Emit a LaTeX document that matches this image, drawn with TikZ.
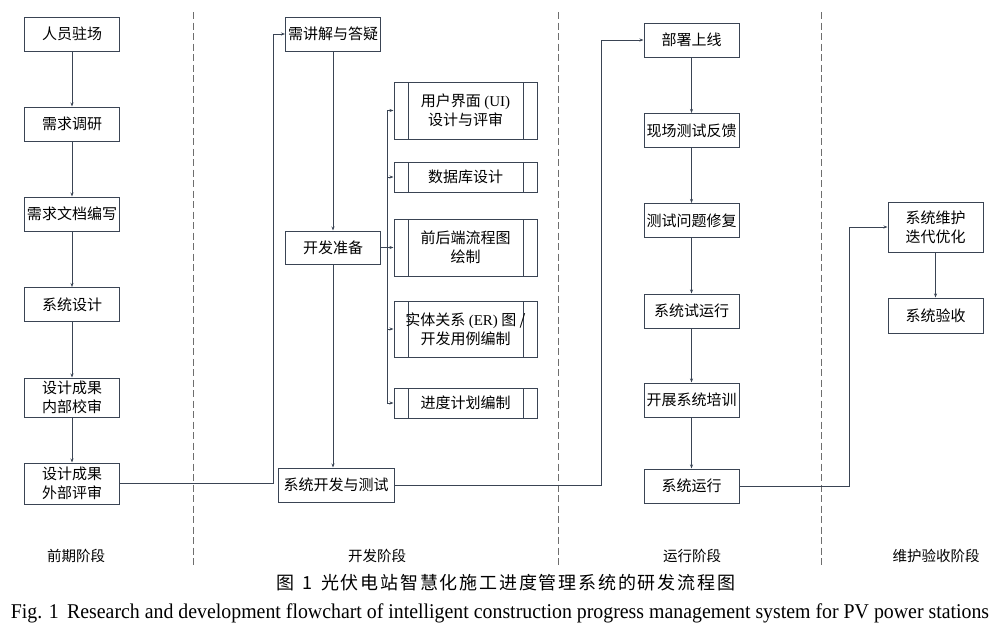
\documentclass[tikz,border=0pt]{standalone}
\usepackage{fontspec}
\setmainfont{Liberation Serif}
\newfontfamily\cjk{Noto Sans CJK SC}
\newfontfamily\cjkcap[LetterSpace=10]{Noto Sans CJK SC}
\usetikzlibrary{arrows.meta}
\definecolor{boxline}{RGB}{58,68,84}
\definecolor{sepgray}{RGB}{110,110,110}
\tikzset{
  stage/.style={draw=boxline, line width=1pt, fill=white, minimum width=95pt,
    minimum height=34pt, inner sep=1pt, align=center,
    font=\cjk\fontsize{15}{19}\selectfont},
  subbox/.style={stage, minimum width=143pt,
    path picture={\draw[boxline, line width=1pt]
      ([xshift=14pt]path picture bounding box.north west) -- ([xshift=14pt]path picture bounding box.south west)
      ([xshift=-14pt]path picture bounding box.north east) -- ([xshift=-14pt]path picture bounding box.south east);}},
  arr/.style={draw=boxline, line width=0.8pt, -{Stealth[length=4pt,width=3pt]}},
  link/.style={draw=boxline, line width=0.8pt},
  sep/.style={draw=sepgray, line width=1pt, dash pattern=on 7pt off 3.5pt},
  phase/.style={font=\cjk\fontsize{14.5}{16}\selectfont}
}
\begin{document}
\begin{tikzpicture}[x=1pt, y=-1pt]
  \useasboundingbox (0,0) rectangle (1000,635);
  % phase separators
  \foreach \x in {193,558,821}
    \draw[sep] (\x,12) -- (\x,567);

  % early phase
  \node[stage] (staff) at (72,34) {人员驻场};
  \node[stage] (survey) at (72,124) {需求调研};
  \node[stage] (reqdoc) at (72,214) {需求文档编写};
  \node[stage] (sysdesign) at (72,304.5) {系统设计};
  \node[stage, minimum height=39pt] (inrev) at (72,397.5) {设计成果\\内部校审};
  \node[stage, minimum height=41pt] (exrev) at (72,483.5) {设计成果\\外部评审};

  % development phase
  \node[stage] (qa) at (333,34) {需讲解与答疑};
  \node[stage, minimum height=33pt] (prep) at (333,247.5) {开发准备};
  \node[stage, minimum width=116pt] (devtest) at (336,485) {系统开发与测试};
  \node[subbox, minimum height=57pt] (ui) at (465.5,110.5) {用户界面 {\rmfamily (UI)}\\设计与评审};
  \node[subbox, minimum height=30pt] (db) at (465.5,177) {数据库设计};
  \node[subbox, minimum height=57pt] (flow) at (465.5,247.5) {前后端流程图\\绘制};
  \node[subbox, minimum height=56pt] (er) at (465.5,329) {实体关系 {\rmfamily (ER)} 图 /\\开发用例编制};
  \node[subbox, minimum height=30pt] (plan) at (465.5,403) {进度计划编制};

  % operation phase
  \node[stage] (deploy) at (691.5,40) {部署上线};
  \node[stage] (feedback) at (691.5,130.5) {现场测试反馈};
  \node[stage] (fix) at (691.5,220.5) {测试问题修复};
  \node[stage] (trial) at (691.5,311) {系统试运行};
  \node[stage] (train) at (691.5,400) {开展系统培训};
  \node[stage] (run) at (691.5,486) {系统运行};

  % maintenance phase
  \node[stage, minimum height=50pt] (maint) at (935.5,227) {系统维护\\迭代优化};
  \node[stage, minimum height=35pt] (accept) at (935.5,315.5) {系统验收};

  % flow inside each phase
  \foreach \a/\b in {staff/survey, survey/reqdoc, reqdoc/sysdesign, sysdesign/inrev, inrev/exrev,
      qa/prep, deploy/feedback, feedback/fix, fix/trial, trial/train, train/run, maint/accept}
    \draw[arr] (\a) -- (\b);
  \draw[arr] (prep.south) -- (prep.south |- devtest.north);

  % branches of the preparation step
  \draw[link] (prep.east) -- ++(6,0) coordinate (bus);
  \draw[link] (bus |- ui.west) -- (bus |- plan.west);
  \foreach \n in {ui,db,flow,er,plan}
    \draw[arr] (bus |- \n.west) -- (\n.west);

  % hand-over between phases
  \coordinate (hop1) at (273,0);
  \coordinate (hop2) at (601,0);
  \coordinate (hop3) at (849,0);
  \draw[arr] (exrev.east) -- (exrev.east -| hop1) |- (qa.west);
  \draw[arr] (devtest.east) -- (devtest.east -| hop2) |- (deploy.west);
  \draw[arr] (run.east) -- (run.east -| hop3) |- (maint.west);

  % phase names
  \node[phase] (ph1) at (76,556) {前期阶段};
  \node[phase] (ph2) at (377,556) {开发阶段};
  \node[phase] (ph3) at (692,556) {运行阶段};
  \node[phase] (ph4) at (936,556) {维护验收阶段};

  % caption
  \node[font=\cjkcap\fontsize{18}{20}\selectfont] (capcn) at (506,583) {图\hspace{0.4em}1\hspace{0.5em}光伏电站智慧化施工进度管理系统的研发流程图};
  \node[font=\fontsize{21}{23}\selectfont, xscale=0.945] (capen) at (500,613) {Fig. 1\, Research and development flowchart of intelligent construction progress management system for PV power stations};
\end{tikzpicture}
\end{document}
